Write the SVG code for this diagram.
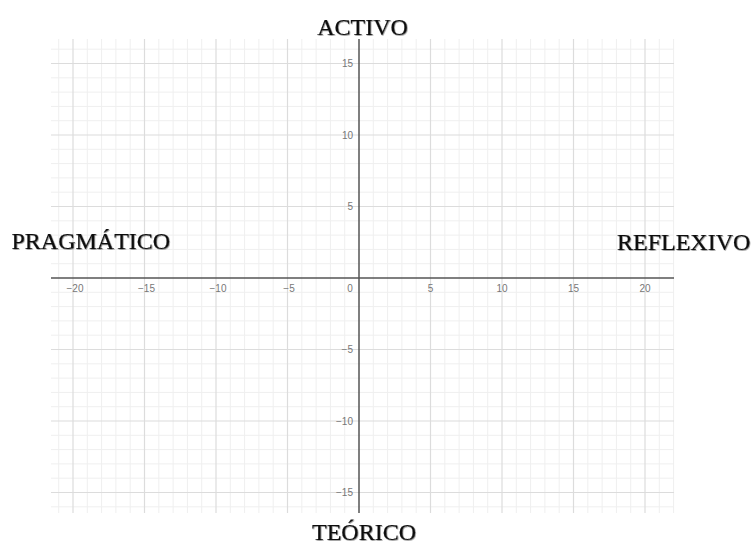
<svg xmlns="http://www.w3.org/2000/svg" width="753" height="545" viewBox="0 0 753 545">
  <style>
    .minor { stroke: #efefef; stroke-width: 1; fill: none; }
    .major { stroke: #dcdcdc; stroke-width: 1.2; fill: none; }
    .axis { stroke: #555555; stroke-width: 1.5; fill: none; }
    .tick { font-family: "Liberation Sans", Arial, sans-serif; font-size: 10px; fill: #777777; }
    .tx { text-anchor: middle; }
    .ty { text-anchor: end; }
    .title { font-family: "Liberation Serif", "Times New Roman", serif; font-size: 24px; fill: #111111; stroke: #111111; stroke-width: 0.15; filter: url(#soft); }
  </style>
  <defs>
    <filter id="soft" x="-10%" y="-30%" width="120%" height="160%">
      <feDropShadow dx="0.7" dy="0.7" stdDeviation="0.7" flood-color="#000000" flood-opacity="0.5"/>
    </filter>
  </defs>
  <rect width="753" height="545" fill="#ffffff"/>
  <g id="grid">
    <path class="minor" d="M58.7 39V513M87.3 39V513M101.6 39V513M115.9 39V513M130.2 39V513M158.8 39V513M173.1 39V513M187.4 39V513M201.7 39V513M230.3 39V513M244.6 39V513M258.9 39V513M273.2 39V513M301.8 39V513M316.1 39V513M330.4 39V513M344.7 39V513M373.3 39V513M387.6 39V513M401.9 39V513M416.2 39V513M444.8 39V513M459.1 39V513M473.4 39V513M487.7 39V513M516.3 39V513M530.6 39V513M544.9 39V513M559.2 39V513M587.8 39V513M602.1 39V513M616.4 39V513M630.7 39V513M659.3 39V513M673.6 39V513"/>
    <path class="minor" d="M51 49.2H674M51 77.8H674M51 92.1H674M51 106.4H674M51 120.7H674M51 149.3H674M51 163.6H674M51 177.9H674M51 192.2H674M51 220.8H674M51 235.1H674M51 249.4H674M51 263.7H674M51 292.3H674M51 306.6H674M51 320.9H674M51 335.2H674M51 363.8H674M51 378.1H674M51 392.4H674M51 406.7H674M51 435.3H674M51 449.6H674M51 463.9H674M51 478.2H674M51 506.8H674"/>
    <path class="major" d="M73 39V513M144.5 39V513M216 39V513M287.5 39V513M430.5 39V513M502 39V513M573.5 39V513M645 39V513"/>
    <path class="major" d="M51 63.5H674M51 135H674M51 206.5H674M51 349.5H674M51 421H674M51 492.5H674"/>
  </g>
  <g id="connectors">
    <path id="x-axis" class="axis" d="M51 278H674"/>
    <path id="y-axis" class="axis" d="M359 39V513"/>
  </g>
  <g id="x-tick-labels" class="tick tx">
    <text x="75" y="292">−20</text>
    <text x="146.5" y="292">−15</text>
    <text x="218" y="292">−10</text>
    <text x="289" y="292">−5</text>
    <text x="350" y="292">0</text>
    <text x="430.5" y="292">5</text>
    <text x="502" y="292">10</text>
    <text x="573.5" y="292">15</text>
    <text x="645" y="292">20</text>
  </g>
  <g id="y-tick-labels" class="tick ty">
    <text x="353" y="67">15</text>
    <text x="353" y="138.5">10</text>
    <text x="353" y="210">5</text>
    <text x="353" y="353">−5</text>
    <text x="353" y="424.5">−10</text>
    <text x="353" y="496">−15</text>
  </g>
  <g id="node-activo"><text class="title" x="362.5" y="35" text-anchor="middle">ACTIVO</text></g>
  <g id="node-pragmatico"><text class="title" x="11.5" y="248.5">PRAGMÁTICO</text></g>
  <g id="node-reflexivo"><text class="title" x="617" y="250">REFLEXIVO</text></g>
  <g id="node-teorico"><text class="title" x="364" y="540" text-anchor="middle">TEÓRICO</text></g>
</svg>
